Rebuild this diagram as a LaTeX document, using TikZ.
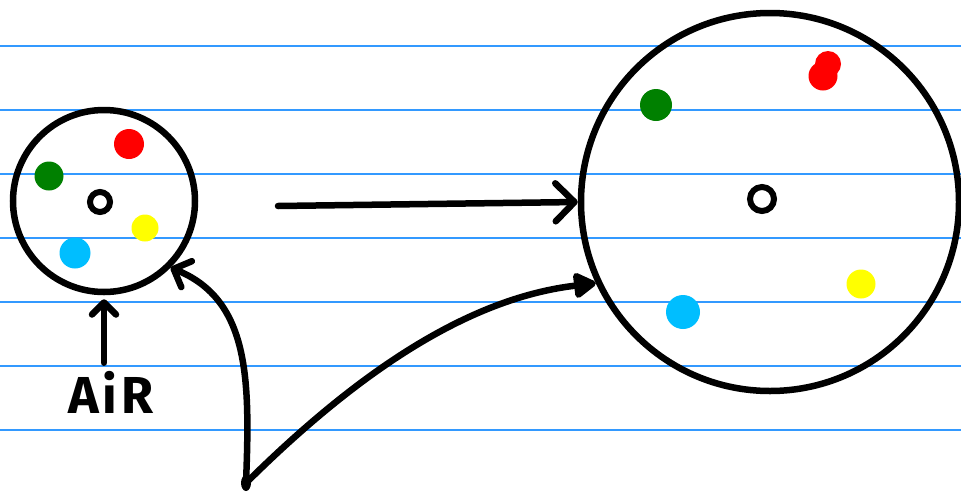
\documentclass[tikz,border=0pt]{standalone}
\usepackage{fontspec}
\setmainfont{Fira Sans}
\usetikzlibrary{arrows.meta}
\definecolor{ruled}{RGB}{51,153,255}
\definecolor{dgreen}{RGB}{0,128,0}
\definecolor{dred}{RGB}{255,0,0}
\definecolor{dyellow}{RGB}{255,255,0}
\definecolor{dblue}{RGB}{0,190,255}
\tikzset{
  ink/.style={line width=6.5pt, line cap=round, line join=round, black},
  ring/.style={circle, draw, line width=6.5pt, inner sep=0pt},
  hole/.style={circle, draw, line width=6pt, inner sep=0pt, minimum size=20pt},
  dot/.style={circle, fill=#1, inner sep=0pt, minimum size=28pt},
  rule/.style={ruled, line width=1.5pt},
  barb/.style={-{Straight Barb[length=#1, width=2*#1, line width=6.5pt, round]}},
}
\begin{document}
\begin{tikzpicture}[x=1pt,y=-1pt]
\useasboundingbox (0,0) rectangle (961,493);
\fill[white] (0,0) rectangle (961,493);
% ruled lines
\foreach \yy in {46,110,174,238,302,366,430}
  \draw[rule] (0,\yy) -- (961,\yy);
% circles
\node[ring, minimum size=182pt] (small) at (104,201) {};
\node[ring, minimum size=378pt] (big) at (770,202) {};
\node[hole] (sh) at (100,202) {};
\node[hole, minimum size=24pt] (bh) at (762,199) {};
% dots small
\node[dot=dred, minimum size=30pt] (sr) at (129,144) {};
\node[dot=dgreen, minimum size=29pt] (sg) at (49,176) {};
\node[dot=dyellow, minimum size=27pt] (sy) at (145,228) {};
\node[dot=dblue, minimum size=31pt] (sb) at (75,253) {};
% dots big
\node[dot=dgreen, minimum size=32pt] (bg) at (656,105) {};
\node[dot=dred, minimum size=29pt] (br1) at (823,76) {};
\node[dot=dred, minimum size=26pt] (br2) at (828,64) {};
\node[dot=dblue, minimum size=34pt] (bb) at (683,312) {};
\node[dot=dyellow, minimum size=29pt] (by) at (861,284) {};
% label
\node[font=\fontsize{52}{52}\selectfont\bfseries, inner sep=0pt] (air) at (111,392) {A\kern4pt i\kern4pt R};
% connectors
\coordinate (hs) at (278,206);
\coordinate (root) at (246,483);
\draw[ink, barb=19pt] (hs) -- (big.west);
\draw[ink, barb=12pt, shorten <=8pt, shorten >=4pt] (small.south |- air.north) -- (small.south);
\draw[ink, barb=14pt] (root) .. controls (250,380) and (250,300) .. (small.-45);
\draw[ink, -{Triangle[length=25pt, width=28pt, round]}] (root) .. controls (360,370) and (470,298) .. (big.205);
\fill (root) ellipse (5pt and 8pt);
\end{tikzpicture}
\end{document}
